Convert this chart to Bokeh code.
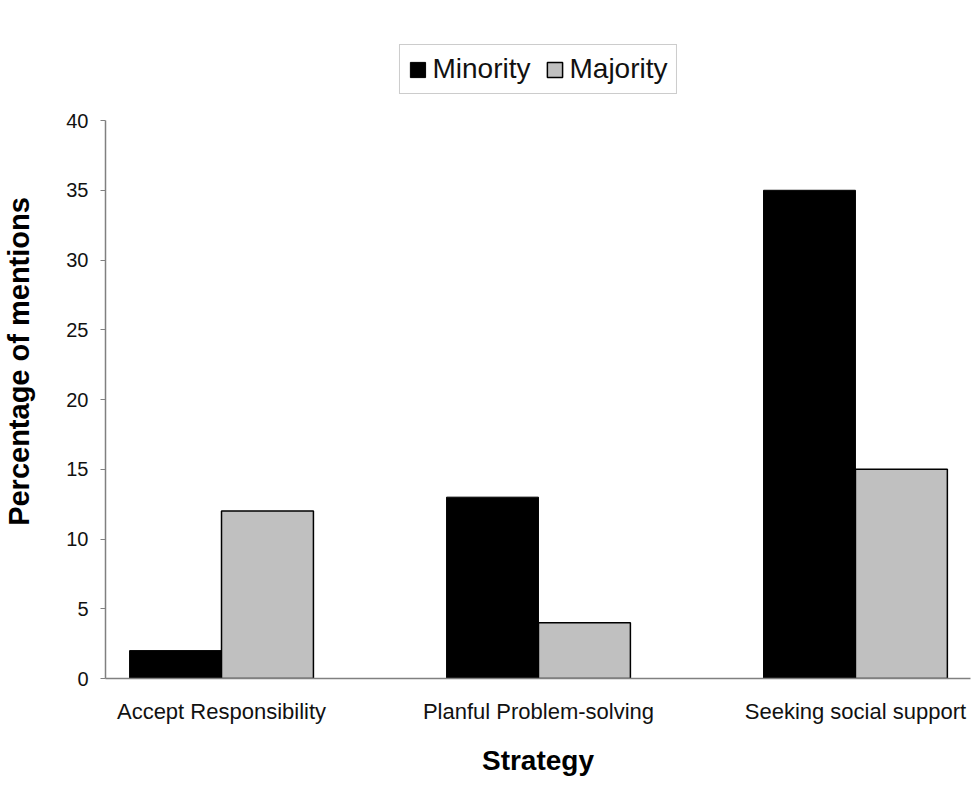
from bokeh.plotting import figure
from bokeh.models import ColumnDataSource, FixedTicker, Legend, LegendItem, Range1d
from bokeh.transform import dodge
from bokeh.embed import file_html
from bokeh.resources import INLINE

categories = ["Accept Responsibility", "Planful Problem-solving", "Seeking social support"]
minority = [2, 13, 35]
majority = [12, 4, 15]
y_ticks = [0, 5, 10, 15, 20, 25, 30, 35, 40]

xs = list(range(len(categories)))
src = ColumnDataSource(dict(x=xs, minority=minority, majority=majority))

FONT = "Liberation Sans"
BW = 0.29

p = figure(width=975, height=785, output_backend="svg", toolbar_location=None,
           x_range=Range1d(-0.366, 2.363), y_range=Range1d(0, 45.45),
           min_border_left=105, min_border_right=5, min_border_top=44, min_border_bottom=107)
p.outline_line_color = None
p.xgrid.grid_line_color = None
p.ygrid.grid_line_color = None
p.background_fill_color = "white"
p.border_fill_color = "white"

r1 = p.vbar(x=dodge("x", -BW / 2), top="minority", width=BW, source=src,
            fill_color="black", line_color="black", line_width=1)
r2 = p.vbar(x=dodge("x", BW / 2), top="majority", width=BW, source=src,
            fill_color="#c0c0c0", line_color="black", line_width=1.5)

# x axis
xa = p.xaxis[0]
xa.ticker = FixedTicker(ticks=xs)
xa.major_label_overrides = {i: c for i, c in enumerate(categories)}
xa.major_tick_line_color = None
xa.minor_tick_line_color = None
xa.axis_line_color = "#808080"
xa.axis_line_width = 1.5
xa.major_label_text_font = FONT
xa.major_label_text_font_size = "22px"
xa.major_label_text_color = "#111111"
xa.major_label_standoff = 14
xa.axis_label = "Strategy"
xa.axis_label_text_font = FONT
xa.axis_label_text_font_style = "bold"
xa.axis_label_text_font_size = "28px"
xa.axis_label_text_color = "black"
xa.axis_label_standoff = 18

# y axis
ya = p.yaxis[0]
ya.ticker = FixedTicker(ticks=y_ticks)
ya.bounds = (0, 40)
ya.minor_tick_line_color = None
ya.major_tick_out = 5
ya.major_tick_in = 0
ya.major_tick_line_color = "#808080"
ya.axis_line_color = "#808080"
ya.axis_line_width = 1.5
ya.major_label_text_font = FONT
ya.major_label_text_font_size = "20px"
ya.major_label_text_color = "#111111"
ya.major_label_standoff = 12
ya.axis_label = "Percentage of mentions"
ya.axis_label_text_font = FONT
ya.axis_label_text_font_style = "bold"
ya.axis_label_text_font_size = "29px"
ya.axis_label_text_color = "black"
ya.axis_label_standoff = 28

legend = Legend(items=[LegendItem(label="Minority", renderers=[r1]),
                       LegendItem(label="Majority", renderers=[r2])],
                orientation="horizontal", location="top_center",
                label_text_font=FONT, label_text_font_size="28px", label_text_color="#111111",
                glyph_width=19, glyph_height=19, label_standoff=6, spacing=14,
                padding=8, margin=0, border_line_color="#999999", border_line_width=1.5,
                background_fill_color="white")
p.add_layout(legend, "center")

open("out.html", "w").write(file_html(p, INLINE))
